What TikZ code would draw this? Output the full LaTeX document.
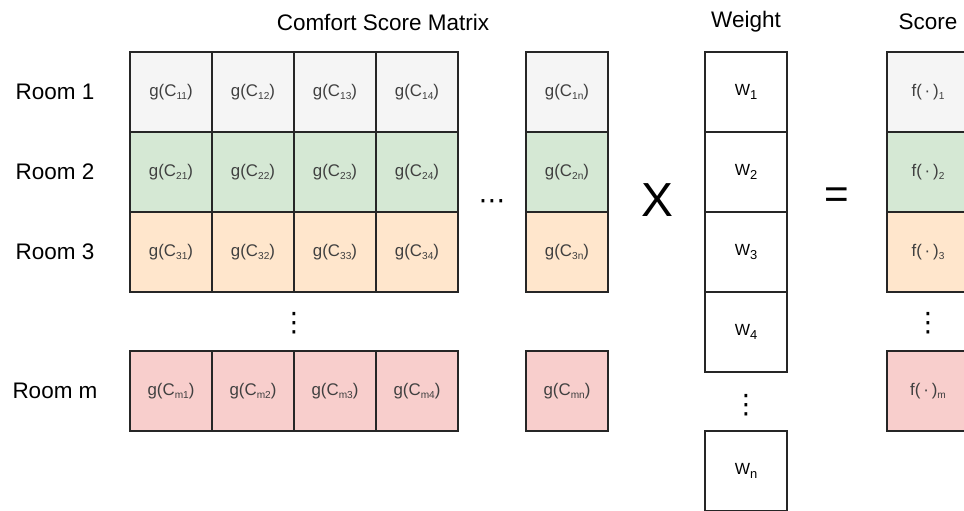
\documentclass[tikz,border=0pt]{standalone}
\usepackage{fontspec}
\usepackage{graphicx}
\setmainfont{Liberation Sans}
\newfontfamily\dotsfont{DejaVu Sans}
\usetikzlibrary{positioning}

\definecolor{rowgray}{HTML}{F5F5F5}
\definecolor{rowgreen}{HTML}{D5E8D4}
\definecolor{roworange}{HTML}{FFE6CC}
\definecolor{rowred}{HTML}{F8CECC}

% small lowered indices inside the cells
\newcommand{\cidx}[1]{\raisebox{-0.4ex}{\scalebox{0.6}{#1}}}
\newcommand{\widx}[1]{\raisebox{-0.55ex}{\scalebox{0.8}{#1}}}

\begin{document}
\begin{tikzpicture}[node distance=0pt]
\tikzstyle{cell}=[draw=black!85, line width=1.2pt, minimum width=2.05cm, minimum height=2cm, inner sep=0pt, outer sep=0pt, text=black!75, font=\fontsize{12}{14}\selectfont]
\tikzstyle{wcell}=[cell, fill=white, text=black, font=\fontsize{11.5}{13}\selectfont]
\tikzstyle{heading}=[font=\fontsize{16}{19}\selectfont]
\tikzstyle{vdot}=[font=\dotsfont\fontsize{19}{22}\selectfont, inner sep=0pt]
\useasboundingbox (0,0) rectangle (24.1,-12.75);
\clip (0,0) rectangle (24.1,-12.75);

% comfort score matrix
\node[cell, fill=rowgray] (c11) at (4.275,-2.3) {g(C\cidx{11})};
\node[cell, fill=rowgray, right=of c11] (c12) {g(C\cidx{12})};
\node[cell, fill=rowgray, right=of c12] (c13) {g(C\cidx{13})};
\node[cell, fill=rowgray, right=of c13] (c14) {g(C\cidx{14})};
\node[cell, fill=rowgray] (c1n) at (14.175,-2.3) {g(C\cidx{1n})};

\node[cell, fill=rowgreen, below=of c11] (c21) {g(C\cidx{21})};
\node[cell, fill=rowgreen, right=of c21] (c22) {g(C\cidx{22})};
\node[cell, fill=rowgreen, right=of c22] (c23) {g(C\cidx{23})};
\node[cell, fill=rowgreen, right=of c23] (c24) {g(C\cidx{24})};
\node[cell, fill=rowgreen, below=of c1n] (c2n) {g(C\cidx{2n})};

\node[cell, fill=roworange, below=of c21] (c31) {g(C\cidx{31})};
\node[cell, fill=roworange, right=of c31] (c32) {g(C\cidx{32})};
\node[cell, fill=roworange, right=of c32] (c33) {g(C\cidx{33})};
\node[cell, fill=roworange, right=of c33] (c34) {g(C\cidx{34})};
\node[cell, fill=roworange, below=of c2n] (c3n) {g(C\cidx{3n})};

\node[cell, fill=rowred, below=1.475cm of c31] (cm1) {g(C\cidx{m1})};
\node[cell, fill=rowred, right=of cm1] (cm2) {g(C\cidx{m2})};
\node[cell, fill=rowred, right=of cm2] (cm3) {g(C\cidx{m3})};
\node[cell, fill=rowred, right=of cm3] (cm4) {g(C\cidx{m4})};
\node[cell, fill=rowred, below=1.475cm of c3n] (cmn) {g(C\cidx{mn})};

% weight vector
\node[wcell] (w1) at (18.65,-2.3) {W\widx{1}};
\node[wcell, below=of w1] (w2) {W\widx{2}};
\node[wcell, below=of w2] (w3) {W\widx{3}};
\node[wcell, below=of w3] (w4) {W\widx{4}};
\node[wcell, below=1.475cm of w4] (wn) {W\widx{n}};

% score vector
\node[cell, fill=rowgray] (s1) at (23.2,-2.3) {f(\,·\,)\cidx{1}};
\node[cell, fill=rowgreen, below=of s1] (s2) {f(\,·\,)\cidx{2}};
\node[cell, fill=roworange, below=of s2] (s3) {f(\,·\,)\cidx{3}};
\node[cell, fill=rowred, below=1.475cm of s3] (sm) {f(\,·\,)\cidx{m}};

% titles and row names
\node[heading] (title) at (9.575,-0.55) {Comfort Score Matrix};
\node[heading] (wtitle) at (18.65,-0.55) {Weight};
\node[heading] (stitle) at (23.2,-0.55) {Score};
\node[heading] (room1) at (1.375,-2.3) {Room 1};
\node[heading] (room2) at (1.375,-4.3) {Room 2};
\node[heading] (room3) at (1.375,-6.3) {Room 3};
\node[heading] (roomm) at (1.375,-9.775) {Room m};

% operators and ellipses
\node[font=\fontsize{34}{36}\selectfont] (times) at (16.425,-5.0) {X};
\node[font=\fontsize{30}{32}\selectfont] (equals) at (20.925,-4.95) {=};
\node[vdot] (hdots) at (12.3,-5.12) {⋯};
\node[vdot] (cdots) at (7.35,-8.08) {⋮};
\node[vdot] (wdots) at (18.65,-10.13) {⋮};
\node[vdot] (sdots) at (23.2,-8.08) {⋮};
\end{tikzpicture}
\end{document}
